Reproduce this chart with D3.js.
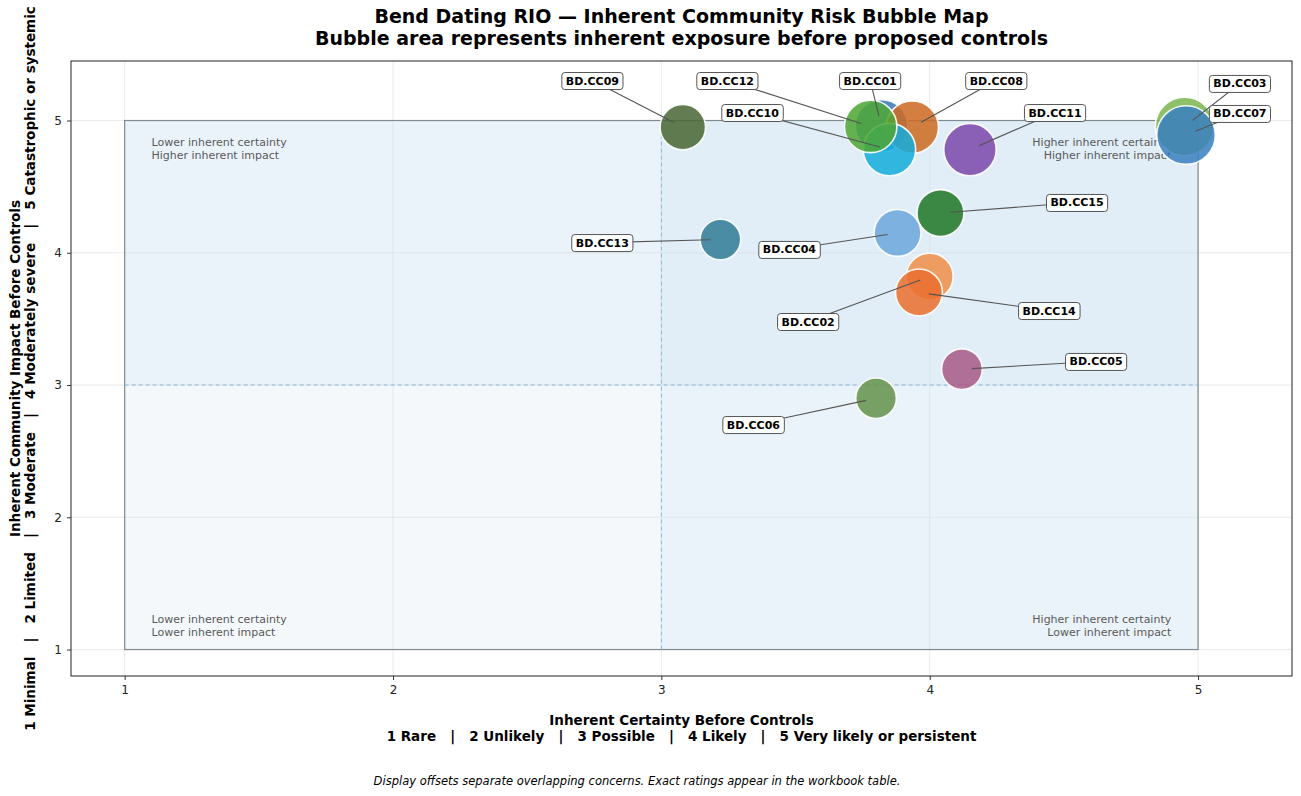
<!DOCTYPE html>
<html>
<head>
<meta charset="utf-8">
<script src="https://cdn.jsdelivr.net/npm/d3@7"></script>
<style>
  body { margin: 0; background: #fff; }
  svg text { font-family: "DejaVu Sans", sans-serif; }
</style>
</head>
<body>
<div id="chart"></div>
<script>
// concerns, exact ratings and where they are shown on the map
const ids = ["BD.CC01", "BD.CC02", "BD.CC03", "BD.CC04", "BD.CC05", "BD.CC06", "BD.CC07", "BD.CC08",
  "BD.CC09", "BD.CC10", "BD.CC11", "BD.CC12", "BD.CC13", "BD.CC14", "BD.CC15"];
const likelihood = [4, 4, 5, 4, 4, 4, 5, 4, 3, 4, 4, 4, 3, 4, 4];
const impact = [5, 4, 5, 4, 3, 3, 5, 5, 5, 5, 5, 5, 4, 4, 4];
const displayX = [3.82, 4.00, 4.95, 3.88, 4.12, 3.80, 4.955, 3.935, 3.08, 3.85, 4.15, 3.78, 3.22, 3.96, 4.04];
const displayY = [4.96, 3.82, 4.955, 4.15, 3.12, 2.90, 4.89, 4.95, 4.95, 4.78, 4.78, 4.955, 4.10, 3.70, 4.30];
const labelX = [3.778, 3.547, 5.156, 3.477, 4.620, 3.343, 5.156, 4.248, 2.743, 3.339, 4.467, 3.246, 2.780, 4.445, 4.549];
const labelY = [5.302, 3.480, 5.280, 4.025, 3.178, 2.701, 5.053, 5.302, 5.302, 5.060, 5.060, 5.302, 4.077, 3.563, 4.380];
const colors = ["#3a78b4", "#ef8f48", "#7cb650", "#6ca6dc", "#a65a86", "#64914a", "#3a80bf", "#cd6a22",
  "#4a6634", "#14acdc", "#7c48ab", "#4ea634", "#317c96", "#ea6f2e", "#1f7626"];

const xTicks = [1, 2, 3, 4, 5];
const yTicks = [1, 2, 3, 4, 5];

const quadrantNotes = [
  { x: 1.1, y: 4.9, anchor: "start", va: "top", lines: ["Lower inherent certainty", "Higher inherent impact"] },
  { x: 4.9, y: 4.9, anchor: "end", va: "top", lines: ["Higher inherent certainty", "Higher inherent impact"] },
  { x: 1.1, y: 1.1, anchor: "start", va: "bottom", lines: ["Lower inherent certainty", "Lower inherent impact"] },
  { x: 4.9, y: 1.1, anchor: "end", va: "bottom", lines: ["Higher inherent certainty", "Lower inherent impact"] }
];

const W = 1301, H = 796;
const margin = { top: 61, right: 9, bottom: 120, left: 71 };

const svg = d3.select("#chart").append("svg")
  .attr("width", W).attr("height", H);

const x = d3.scaleLinear().domain([0.8, 5.35]).range([margin.left, W - margin.right]);
const y = d3.scaleLinear().domain([0.8, 5.45]).range([H - margin.bottom, margin.top]);
const r = d3.scaleSqrt().domain([0, 25]).range([0, 29.3]);

// grid
svg.append("g").selectAll("line.gx").data(xTicks).enter().append("line")
  .attr("x1", d => x(d)).attr("x2", d => x(d))
  .attr("y1", y.range()[0]).attr("y2", y.range()[1])
  .attr("stroke", "#e4e4e4").attr("stroke-width", 0.8);
svg.append("g").selectAll("line.gy").data(yTicks).enter().append("line")
  .attr("y1", d => y(d)).attr("y2", d => y(d))
  .attr("x1", x.range()[0]).attr("x2", x.range()[1])
  .attr("stroke", "#e4e4e4").attr("stroke-width", 0.8);

// quadrants
const quads = [
  { x0: 1, x1: 3, y0: 1, y1: 3, fill: "#f4f8fb" },
  { x0: 1, x1: 3, y0: 3, y1: 5, fill: "#ebf3fa" },
  { x0: 3, x1: 5, y0: 1, y1: 3, fill: "#ebf3fa" },
  { x0: 3, x1: 5, y0: 3, y1: 5, fill: "#e1eef7" }
];
svg.append("g").selectAll("rect").data(quads).enter().append("rect")
  .attr("x", d => x(d.x0)).attr("y", d => y(d.y1))
  .attr("width", d => x(d.x1) - x(d.x0)).attr("height", d => y(d.y0) - y(d.y1))
  .attr("fill", d => d.fill);

// grid again faintly above the fills
svg.append("g").selectAll("line").data(xTicks).enter().append("line")
  .attr("x1", d => x(d)).attr("x2", d => x(d))
  .attr("y1", y(1)).attr("y2", y(5))
  .attr("stroke", "#d6dde3").attr("stroke-width", 0.8).attr("opacity", 0.7);
svg.append("g").selectAll("line").data(yTicks).enter().append("line")
  .attr("y1", d => y(d)).attr("y2", d => y(d))
  .attr("x1", x(1)).attr("x2", x(5))
  .attr("stroke", "#d6dde3").attr("stroke-width", 0.8).attr("opacity", 0.7);

svg.append("rect")
  .attr("x", x(1)).attr("y", y(5))
  .attr("width", x(5) - x(1)).attr("height", y(1) - y(5))
  .attr("fill", "none").attr("stroke", "#7f8c8d").attr("stroke-width", 1.2);

svg.append("line")
  .attr("x1", x(3)).attr("x2", x(3)).attr("y1", y(1)).attr("y2", y(5))
  .attr("stroke", "#86b6da").attr("stroke-width", 1).attr("stroke-dasharray", "4,3");
svg.append("line")
  .attr("y1", y(3)).attr("y2", y(3)).attr("x1", x(1)).attr("x2", x(5))
  .attr("stroke", "#86b6da").attr("stroke-width", 1).attr("stroke-dasharray", "4,3");

// quadrant notes
quadrantNotes.forEach(q => {
  const t = svg.append("text")
    .attr("x", x(q.x)).attr("y", y(q.y))
    .attr("text-anchor", q.anchor)
    .attr("font-size", 11).attr("fill", "#5a5a5a");
  q.lines.forEach((ln, i) => {
    const dy = q.va === "top" ? (i === 0 ? "1.1em" : "1.2em") : (i === 0 ? "-1.25em" : "1.2em");
    t.append("tspan").attr("x", x(q.x)).attr("dy", dy).text(ln);
  });
});

// axes
const xAxis = svg.append("g")
  .attr("transform", `translate(0,${y.range()[0]})`)
  .call(d3.axisBottom(x).tickValues(xTicks).tickFormat(d3.format("d")).tickSize(4).tickPadding(5));
const yAxis = svg.append("g")
  .attr("transform", `translate(${x.range()[0]},0)`)
  .call(d3.axisLeft(y).tickValues(yTicks).tickFormat(d3.format("d")).tickSize(4).tickPadding(5));
[xAxis, yAxis].forEach(g => {
  g.select(".domain").remove();
  g.selectAll("text").attr("font-size", 12).attr("fill", "#222").style("font-family", "DejaVu Sans");
  g.selectAll("line").attr("stroke", "#333");
});
svg.append("rect")
  .attr("x", x.range()[0]).attr("y", y.range()[1])
  .attr("width", x.range()[1] - x.range()[0]).attr("height", y.range()[0] - y.range()[1])
  .attr("fill", "none").attr("stroke", "#222").attr("stroke-width", 1);

// bubbles, drawn in id order
const data = ids.map((id, i) => ({
  id, color: colors[i],
  exposure: likelihood[i] * impact[i],
  cx: x(displayX[i]), cy: y(displayY[i]),
  lx: x(labelX[i]), ly: y(labelY[i])
}));

svg.append("g").selectAll("circle").data(data).enter().append("circle")
  .attr("cx", d => d.cx).attr("cy", d => d.cy)
  .attr("r", d => r(d.exposure))
  .attr("fill", d => d.color).attr("fill-opacity", 0.86)
  .attr("stroke", "#fff").attr("stroke-width", 1.6).attr("stroke-opacity", 0.9);

// leader lines
svg.append("g").selectAll("line").data(data).enter().append("line")
  .attr("x1", d => d.lx).attr("y1", d => d.ly)
  .attr("x2", d => {
    const dx = d.lx - d.cx, dy = d.ly - d.cy, n = Math.hypot(dx, dy);
    return d.cx + dx / n * 10;
  })
  .attr("y2", d => {
    const dx = d.lx - d.cx, dy = d.ly - d.cy, n = Math.hypot(dx, dy);
    return d.cy + dy / n * 10;
  })
  .attr("stroke", "#555").attr("stroke-width", 1.1);

// label boxes
const labels = svg.append("g").selectAll("g").data(data).enter().append("g")
  .attr("transform", d => `translate(${d.lx},${d.ly})`);
labels.append("text")
  .attr("text-anchor", "middle").attr("dy", "0.36em")
  .attr("font-size", 11).attr("font-weight", "bold").attr("fill", "#000")
  .text(d => d.id);
labels.each(function () {
  const g = d3.select(this);
  const bb = g.select("text").node().getBBox();
  g.insert("rect", "text")
    .attr("x", bb.x - 4).attr("y", bb.y - 2)
    .attr("width", bb.width + 8).attr("height", bb.height + 4)
    .attr("rx", 3).attr("fill", "#fff").attr("fill-opacity", 0.95)
    .attr("stroke", "#555").attr("stroke-width", 1);
});

// titles
const cx = (x.range()[0] + x.range()[1]) / 2;
svg.append("text").attr("x", cx).attr("y", 23).attr("text-anchor", "middle")
  .attr("font-size", 19).attr("font-weight", "bold")
  .text("Bend Dating RIO — Inherent Community Risk Bubble Map");
svg.append("text").attr("x", cx).attr("y", 45).attr("text-anchor", "middle")
  .attr("font-size", 19).attr("font-weight", "bold")
  .text("Bubble area represents inherent exposure before proposed controls");

svg.append("text").attr("x", cx).attr("y", 725).attr("text-anchor", "middle")
  .attr("font-size", 13.5).attr("font-weight", "bold")
  .text("Inherent Certainty Before Controls");
svg.append("text").attr("x", cx).attr("y", 741).attr("text-anchor", "middle")
  .attr("font-size", 13.5).attr("font-weight", "bold").style("white-space", "pre")
  .text("1 Rare   |   2 Unlikely   |   3 Possible   |   4 Likely   |   5 Very likely or persistent");

const ymid = (y.range()[0] + y.range()[1]) / 2;
svg.append("text").attr("transform", `translate(20,${ymid}) rotate(-90)`).attr("text-anchor", "middle")
  .attr("font-size", 13.5).attr("font-weight", "bold")
  .text("Inherent Community Impact Before Controls");
svg.append("text").attr("transform", `translate(35,${ymid}) rotate(-90)`).attr("text-anchor", "middle")
  .attr("font-size", 13.5).attr("font-weight", "bold").style("white-space", "pre")
  .text("1 Minimal   |   2 Limited   |   3 Moderate   |   4 Moderately severe   |   5 Catastrophic or systemic");

svg.append("text").attr("x", 637).attr("y", 785).attr("text-anchor", "middle")
  .attr("font-size", 11.5).attr("font-style", "italic")
  .text("Display offsets separate overlapping concerns. Exact ratings appear in the workbook table.");
</script>
</body>
</html>
